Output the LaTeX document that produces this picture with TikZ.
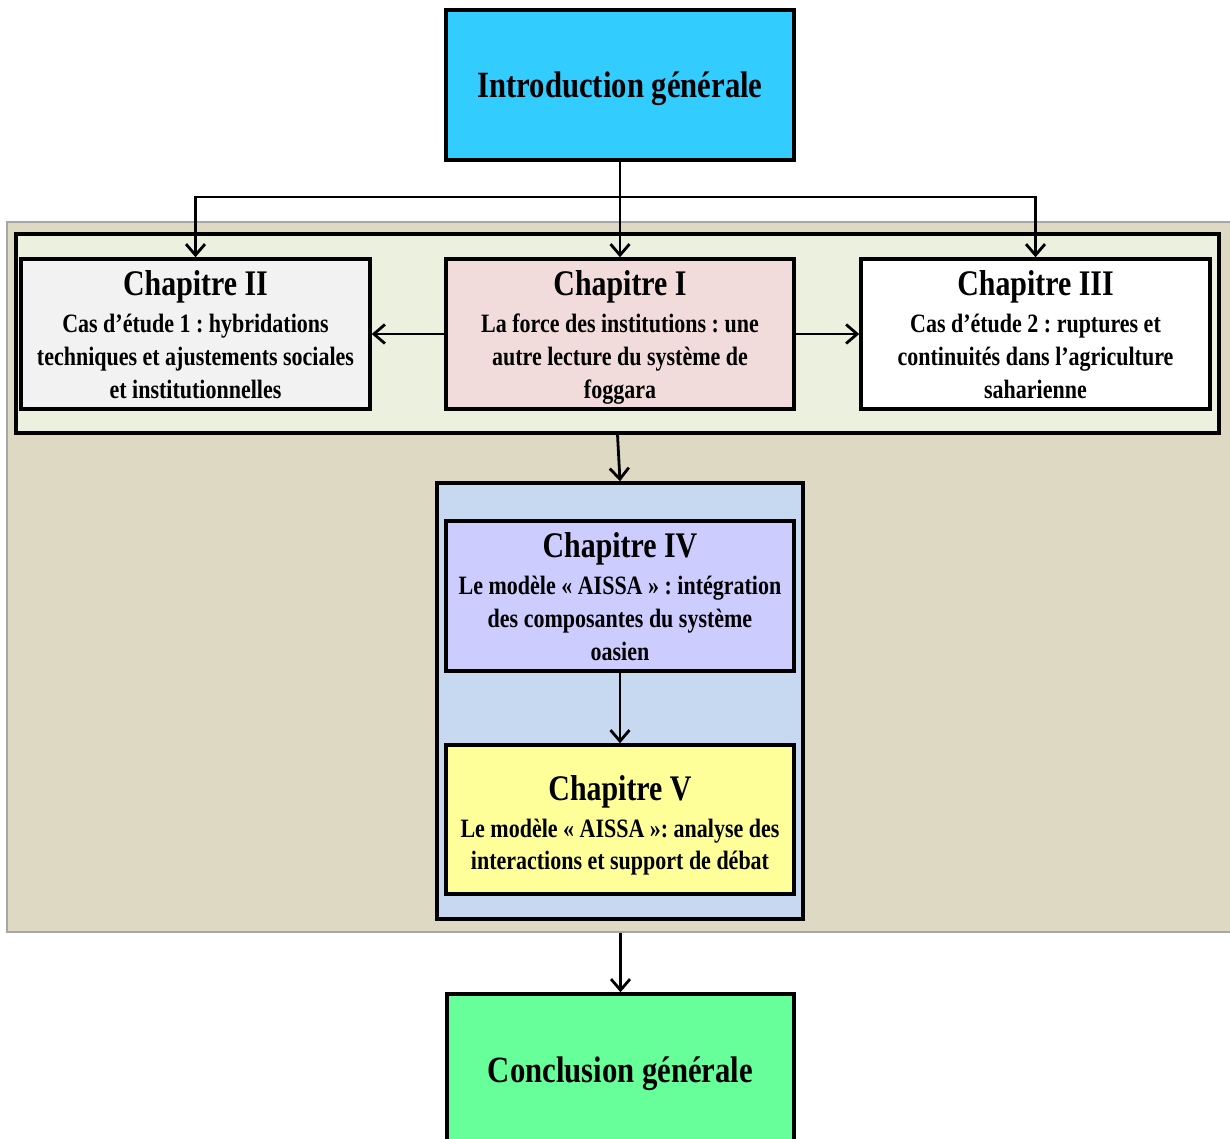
\documentclass[tikz,border=0pt]{standalone}
\usepackage{fontspec}
\setmainfont[FakeStretch=0.83]{Liberation Serif}
\usetikzlibrary{arrows.meta,calc}
\frenchspacing

\definecolor{introfill}{HTML}{33CCFF}
\definecolor{tanfill}{HTML}{DDD9C3}
\definecolor{tanline}{HTML}{A6A6A6}
\definecolor{olivefill}{HTML}{EBF1DE}
\definecolor{greyfill}{HTML}{F2F2F2}
\definecolor{pinkfill}{HTML}{F2DCDB}
\definecolor{bluefill}{HTML}{C6D9F1}
\definecolor{lilacfill}{HTML}{CCCCFF}
\definecolor{yellowfill}{HTML}{FFFF99}
\definecolor{greenfill}{HTML}{66FF99}

\newcommand{\ttlsize}{\fontsize{36}{36}\selectfont}
\newcommand{\framesize}{\fontsize{37}{37}\selectfont}
\newcommand{\bodysize}{\fontsize{26.5}{32.7}\selectfont}
% title line followed by the body lines, first baseline on the node's base
\newcommand{\chapblock}[2]{\parbox[t]{420pt}{\centering\bfseries\ttlsize #1\par\vskip4.3pt\bodysize #2}}

\begin{document}
\begin{tikzpicture}[x=1pt,y=-1pt,
  box/.style={draw=black, line width=3.5pt, inner sep=0pt, minimum width=348pt, minimum height=150pt},
  frame/.style={draw=black, line width=3.5pt, inner sep=0pt},
  lbl/.style={anchor=base, inner sep=0pt, font=\bfseries},
  arr/.style={draw=black, line width=2.8pt, -{Straight Barb[length=11pt,width=19pt,line width=2.8pt]}}]

\useasboundingbox (0,0) rectangle (1230,1139);
\clip (0,0) rectangle (1230,1139);

% grouping panels
\node[draw=tanline, line width=1.5pt, fill=tanfill, inner sep=0pt,
      minimum width=1233pt, minimum height=710pt] (tan) at (623.5,577) {};
\node[frame, fill=olivefill, minimum width=1203pt, minimum height=199pt] (olive) at (617.5,333.5) {};
\node[frame, fill=bluefill, minimum width=366pt, minimum height=436pt] (blue) at (620,701) {};

% chapter boxes
\node[box, fill=introfill] (intro) at (620,85) {};
\node[box, fill=greyfill, minimum width=349pt] (ch2) at (195.5,334) {};
\node[box, fill=pinkfill] (ch1) at (620,334) {};
\node[box, fill=white, minimum width=349pt] (ch3) at (1035.5,334) {};
\node[box, fill=lilacfill] (ch4) at (620,596) {};
\node[box, fill=yellowfill, minimum height=149pt] (ch5) at (620,819.5) {};
\node[box, fill=greenfill, minimum width=347pt] (concl) at (620.5,1069) {};

% texts
\node[lbl] (tintro) at ($(intro.center)+(0,13)$) {\framesize Introduction générale};
\node[lbl] (tch2) at ($(ch2.north)+(0,38.5)$) {\chapblock{Chapitre II}{Cas d’étude 1 : hybridations\\techniques et ajustements sociales\\et institutionnelles}};
\node[lbl] (tch1) at ($(ch1.north)+(0,38.5)$) {\chapblock{Chapitre I}{La force des institutions : une\\autre lecture du système de\\foggara}};
\node[lbl] (tch3) at ($(ch3.north)+(0,38.5)$) {\chapblock{Chapitre III}{Cas d’étude 2 : ruptures et\\continuités dans l’agriculture\\saharienne}};
\node[lbl] (tch4) at ($(ch4.north)+(0,38.5)$) {\chapblock{Chapitre IV}{Le modèle « AISSA » : intégration\\des composantes du système\\oasien}};
\node[lbl] (tch5) at ($(ch5.north)+(0,57)$) {\chapblock{Chapitre V}{Le modèle « AISSA »: analyse des\\interactions et support de débat}};
\node[lbl] (tconcl) at ($(concl.center)+(0,13)$) {\framesize Conclusion générale};

% connectors
\coordinate (fork) at (620,197);
\draw[arr] (intro.south) -- (ch1.north);
\draw[arr] (fork) -| (ch2.north);
\draw[arr] (fork) -| (ch3.north);
\draw[arr] (ch1.west) -- (ch2.east);
\draw[arr] (ch1.east) -- (ch3.west);
\draw[arr] (olive.south) -- (blue.north);
\draw[arr] (ch4.south) -- (ch5.north);
\draw[arr] (tan.south -| concl.north) -- (concl.north);
\end{tikzpicture}
\end{document}
